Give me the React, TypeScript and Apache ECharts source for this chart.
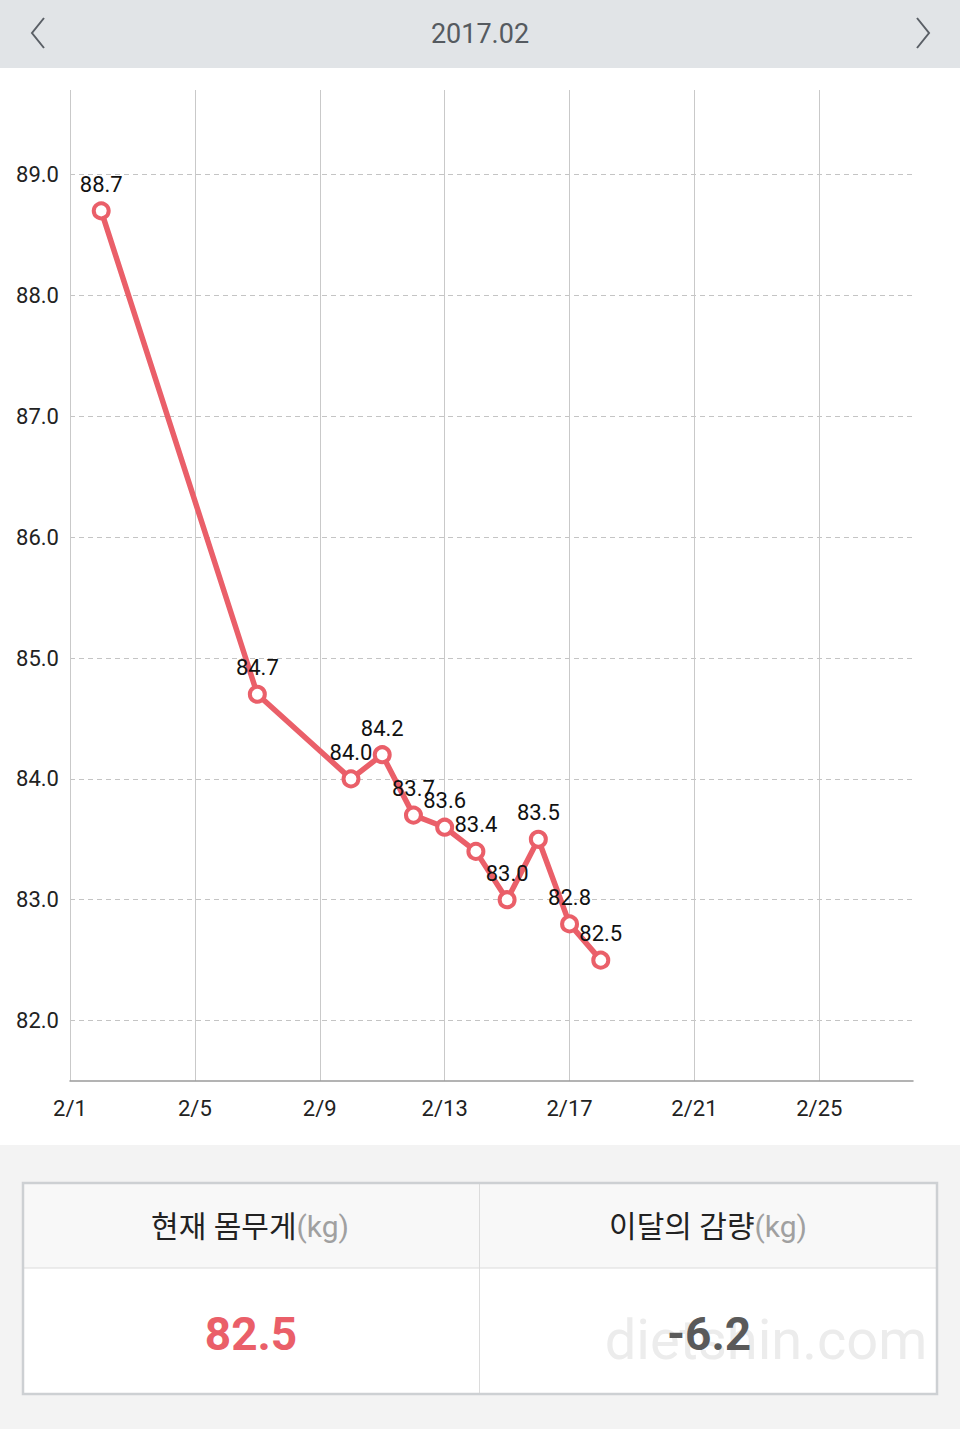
import React, { useEffect, useRef } from "react";
import * as echarts from "echarts";

const monthTitle = "2017.02";
const days = [
  "2/1", "2/2", "2/3", "2/4", "2/5", "2/6", "2/7", "2/8", "2/9", "2/10",
  "2/11", "2/12", "2/13", "2/14", "2/15", "2/16", "2/17", "2/18", "2/19", "2/20",
  "2/21", "2/22", "2/23", "2/24", "2/25", "2/26", "2/27", "2/28",
];
const measuredDays = ["2/2", "2/7", "2/10", "2/11", "2/12", "2/13", "2/14", "2/15", "2/16", "2/17", "2/18"];
const weights = [88.7, 84.7, 84.0, 84.2, 83.7, 83.6, 83.4, 83.0, 83.5, 82.8, 82.5];
const yMin = 81.5;
const yMax = 89.7;
const currentWeight = "82.5";
const monthLoss = "-6.2";

const RED = "#ea5f69";

export default function App() {
  const ref = useRef<HTMLDivElement>(null);
  useEffect(() => {
    if (!ref.current) return;
    const chart = echarts.init(ref.current, null, { renderer: "svg" });
    const font = "Roboto, 'Noto Sans CJK KR', sans-serif";
    chart.setOption({
      animation: false,
      backgroundColor: "#ffffff",
      textStyle: { fontFamily: font },
      grid: { left: 70, right: 47, top: 90, bottom: 348, containLabel: false },
      xAxis: {
        type: "category",
        data: days,
        boundaryGap: false,
        axisLine: { show: true, lineStyle: { color: "#9a9a9a", width: 1.5 } },
        axisTick: { show: false },
        axisLabel: { interval: 3, color: "#222", fontSize: 22, margin: 16, fontFamily: font },
        splitLine: { show: true, interval: 3, lineStyle: { color: "#c9c9c9", width: 1 } },
      },
      yAxis: {
        type: "value",
        min: yMin,
        max: yMax,
        splitNumber: 8,
        axisLine: { show: false },
        axisTick: { show: false },
        axisLabel: {
          showMinLabel: false,
          showMaxLabel: false,
          color: "#222",
          fontSize: 22,
          margin: 11,
          fontFamily: font,
          formatter: (v: number) => v.toFixed(1),
        },
        splitLine: {
          show: true,
          showMinLine: false,
          showMaxLine: false,
          lineStyle: { color: "#c4c4c4", type: [5, 4], width: 1 },
        },
      },
      series: [
        {
          type: "line",
          data: measuredDays.map((d, i) => [d, weights[i]]),
          lineStyle: { color: RED, width: 5.5 },
          itemStyle: { color: "#fff", borderColor: RED, borderWidth: 4 },
          symbol: "circle",
          symbolSize: 15,
          label: {
            show: true,
            position: "top",
            distance: 6,
            color: "#111",
            fontSize: 22,
            fontFamily: font,
            formatter: (p: any) => Number(p.value[1]).toFixed(1),
          },
        },
      ],
      graphic: [
        { type: "rect", shape: { x: 0, y: 0, width: 960, height: 68 }, style: { fill: "#e1e4e7" }, z: 10 },
        {
          type: "text", x: 480, y: 34, z: 11,
          style: { text: monthTitle, fontSize: 27, fill: "#555a60", align: "center", verticalAlign: "middle", fontFamily: font },
        },
        {
          type: "polyline", z: 11,
          shape: { points: [[44, 18], [32, 33], [44, 48]] },
          style: { stroke: "#5a5f66", lineWidth: 2, fill: null },
        },
        {
          type: "polyline", z: 11,
          shape: { points: [[917, 18], [929, 33], [917, 48]] },
          style: { stroke: "#5a5f66", lineWidth: 2, fill: null },
        },
        { type: "rect", shape: { x: 0, y: 1145, width: 960, height: 284 }, style: { fill: "#f3f3f3" }, z: 10 },
        { type: "rect", shape: { x: 23, y: 1183, width: 914, height: 85 }, style: { fill: "#f8f8f8" }, z: 11 },
        { type: "rect", shape: { x: 23, y: 1268, width: 914, height: 126 }, style: { fill: "#ffffff" }, z: 11 },
        { type: "line", shape: { x1: 23, y1: 1268, x2: 937, y2: 1268 }, style: { stroke: "#dcdcdc", lineWidth: 1 }, z: 12 },
        { type: "line", shape: { x1: 479.5, y1: 1183, x2: 479.5, y2: 1394 }, style: { stroke: "#dcdcdc", lineWidth: 1 }, z: 12 },
        {
          type: "rect", shape: { x: 23, y: 1183, width: 914, height: 211 },
          style: { fill: null, stroke: "#cdd0d3", lineWidth: 2.5 }, z: 13,
        },
        {
          type: "text", x: 250, y: 1226, z: 14,
          style: {
            text: "{a|현재 몸무게}{b|(kg)}", align: "center", verticalAlign: "middle",
            rich: {
              a: { fontSize: 30, fill: "#222", fontFamily: font },
              b: { fontSize: 30, fill: "#a0a0a0", fontFamily: font },
            },
          },
        },
        {
          type: "text", x: 708, y: 1226, z: 14,
          style: {
            text: "{a|이달의 감량}{b|(kg)}", align: "center", verticalAlign: "middle",
            rich: {
              a: { fontSize: 30, fill: "#222", fontFamily: font },
              b: { fontSize: 30, fill: "#a0a0a0", fontFamily: font },
            },
          },
        },
        {
          type: "text", x: 766, y: 1340, z: 14,
          style: {
            text: "dietshin.com", align: "center", verticalAlign: "middle",
            fontSize: 56, fill: "#ececec", fontFamily: font,
          },
        },
        {
          type: "text", x: 251, y: 1334, z: 15,
          style: {
            text: currentWeight, align: "center", verticalAlign: "middle",
            fontSize: 46, fontWeight: "bold", fill: RED, fontFamily: font,
          },
        },
        {
          type: "text", x: 709, y: 1334, z: 15,
          style: {
            text: monthLoss, align: "center", verticalAlign: "middle",
            fontSize: 46, fontWeight: "bold", fill: "#5a5a5a", fontFamily: font,
          },
        },
      ],
    });
    return () => chart.dispose();
  }, []);
  return (
    <div
      ref={ref}
      style={{ position: "absolute", left: 0, top: 0, width: 960, height: 1429 }}
    />
  );
}
